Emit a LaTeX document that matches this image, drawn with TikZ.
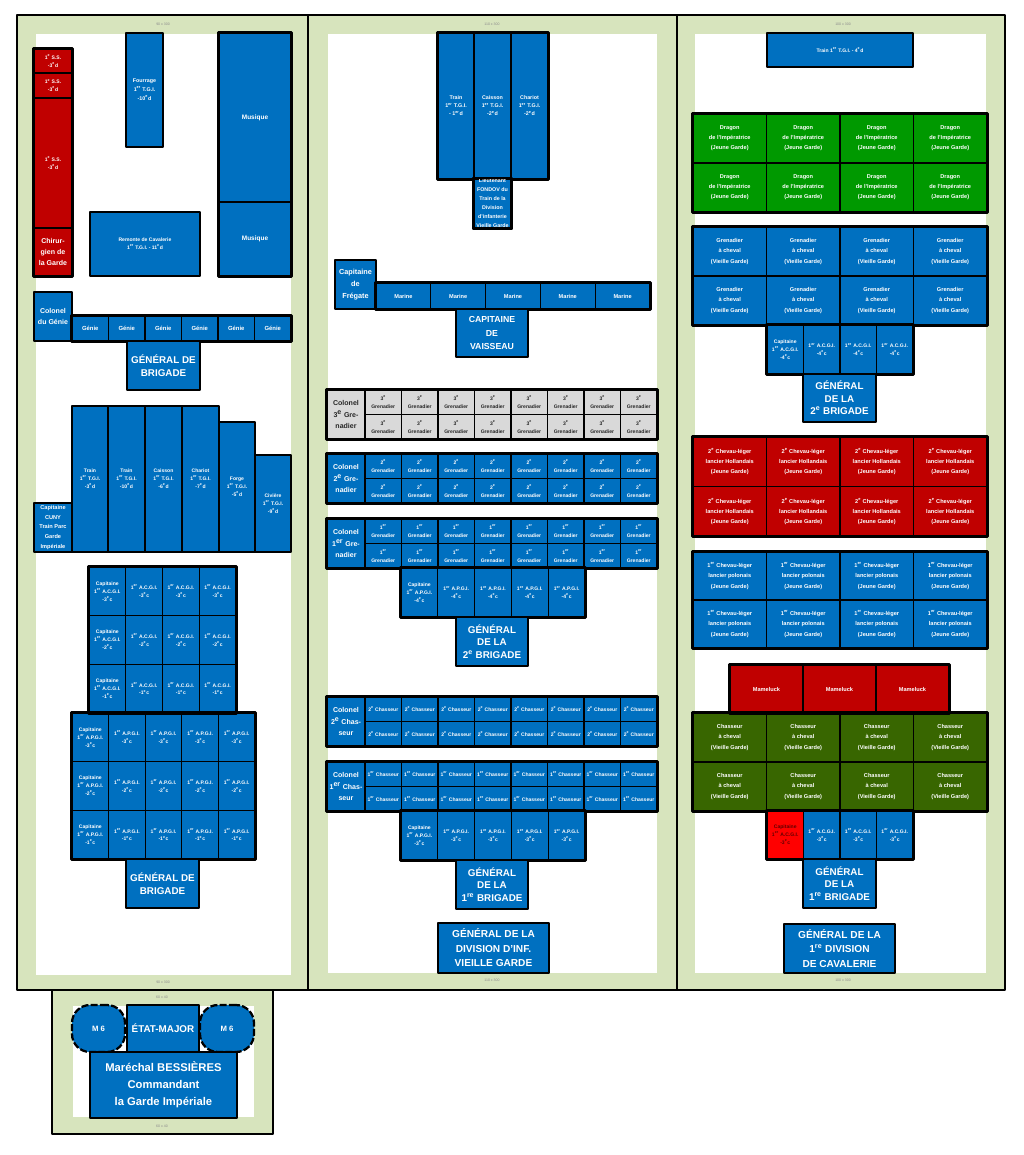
\documentclass[tikz,border=0pt]{standalone}
\usepackage{fontspec}
\setmainfont{Liberation Sans}
\usepackage{tikz}
\definecolor{gardeblue}{RGB}{0,112,192}
\definecolor{gardered}{RGB}{192,0,0}
\definecolor{gardegreen}{RGB}{0,153,0}
\definecolor{gardeolive}{RGB}{56,102,0}
\definecolor{gardescarlet}{RGB}{255,0,0}
\definecolor{gardegrey}{RGB}{217,217,217}
\definecolor{gardesage}{RGB}{215,228,189}
\newcommand{\expo}[1]{\textsuperscript{#1}}
% box given by its corners in pixel units: name, x1, y1, x2, y2, style, text
\newcommand{\blok}[7]{%
 \node[#6,minimum width={((#4)-(#2))*0.25mm},minimum height={((#5)-(#3))*0.25mm}]
  (#1) at ({((#2)+(#4))/2},{((#3)+(#5))/2}) {#7};}

\begin{document}
\begin{tikzpicture}[x=0.25mm,y=-0.25mm,line join=round,
 cell/.style={draw=black,line width=0.8pt,fill=gardeblue,text=white,align=center,
  inner sep=0pt,font=\bfseries\fontsize{3.6}{5.6}\selectfont},
 solo/.style={cell,line width=1.6pt},
 big/.style={solo,font=\bfseries\fontsize{7}{9}\selectfont},
 colonel/.style={cell,font=\bfseries\fontsize{5}{8}\selectfont},
 wide/.style={cell,font=\bfseries\fontsize{4}{7.2}\selectfont},
 grp/.style={draw=black,line width=1.6pt},
 colframe/.style={draw=black,line width=1.4pt,fill=gardesage},
 dimlabel/.style={text=black!45,inner sep=0pt,font=\fontsize{2.5}{3}\selectfont}]
 \fill[white] (0,0) rectangle (1024,1155);
 \useasboundingbox (0,0) rectangle (1024,1155);
 % Three columns and the staff box.
 \draw[colframe] (17,15) rectangle (308,990);
 \fill[white] (36,34) rectangle (291,975);
 \draw[colframe] (308,15) rectangle (677,990);
 \fill[white] (328,34) rectangle (657,973);
 \draw[colframe] (677,15) rectangle (1005,990);
 \fill[white] (695,34) rectangle (986,973);
 \draw[colframe] (52,990) rectangle (273,1134);
 \fill[white] (73,1006) rectangle (254,1117);
 \node[dimlabel] (dimLt) at (163,24) {90 x 300};
 \node[dimlabel] (dimLb) at (163,982) {90 x 300};
 \node[dimlabel] (dimMt) at (492,24) {110 x 300};
 \node[dimlabel] (dimMb) at (492,980) {110 x 300};
 \node[dimlabel] (dimRt) at (843,24) {100 x 300};
 \node[dimlabel] (dimRb) at (843,980) {100 x 300};
 \node[dimlabel] (dimSt) at (162,997) {60 x 40};
 \node[dimlabel] (dimSb) at (162,1126) {60 x 40};

 % Left column: services, music, engineers.
 \blok{ssA}{34}{49}{72}{73}{cell,fill=gardered}{1\expo{e} S.S.\\-3\expo{e}d}
 \blok{ssB}{34}{73}{72}{98}{cell,fill=gardered}{1\expo{e} S.S.\\-3\expo{e}d}
 \blok{ssC}{34}{98}{72}{228}{cell,fill=gardered}{1\expo{e} S.S.\\-3\expo{e}d}
 \blok{chir}{34}{228}{72}{276}{colonel,fill=gardered,font=\bfseries\fontsize{5}{7.7}\selectfont}{Chirur-\\gien de\\la Garde}
 \draw[grp] (ssA.north west) rectangle (chir.south east);
 \blok{fourrage}{126}{33}{163}{147}{solo,font=\bfseries\fontsize{3.8}{6.3}\selectfont}{Fourrage\\1\expo{er} T.G.I.\\-10\expo{e}d}
 \blok{musA}{219}{33}{291}{202}{cell,font=\bfseries\fontsize{4.6}{6}\selectfont}{Musique}
 \blok{musB}{219}{202}{291}{276}{cell,font=\bfseries\fontsize{4.6}{6}\selectfont}{Musique}
 \draw[grp] (musA.north west) rectangle (musB.south east);
 \blok{remonte}{90}{212}{200}{276}{solo}{Remonte de Cavalerie\\1\expo{er} T.G.I. - 11\expo{e}d}
 \blok{colgenie}{34}{292}{72}{341}{colonel,line width=1.6pt}{Colonel\\du Génie}
 \foreach \i in {0,...,5}{
  \blok{genie\i}{72+36.5*\i}{316}{72+36.5*(\i+1)}{341}{cell,font=\bfseries\fontsize{4.2}{5}\selectfont}{Génie}
 }
 \draw[grp] (genie0.north west) rectangle (genie5.south east);
 \blok{genbrigA}{127}{341}{200}{390}{big}{GÉNÉRAL DE\\BRIGADE}

 % Left column: train of the park.
 \blok{cuny}{34}{503}{72}{552}{solo,font=\bfseries\fontsize{4}{7}\selectfont}{Capitaine\\CUNY\\Train Parc\\Garde\\Impériale}
 \blok{trainA}{72}{406}{108}{552}{solo}{Train\\1\expo{er} T.G.I.\\-3\expo{e}d}
 \blok{trainB}{108}{406}{145}{552}{solo}{Train\\1\expo{er} T.G.I.\\-10\expo{e}d}
 \blok{caissonA}{145}{406}{182}{552}{solo}{Caisson\\1\expo{er} T.G.I.\\-6\expo{e}d}
 \blok{chariotA}{182}{406}{219}{552}{solo}{Chariot\\1\expo{er} T.G.I.\\-7\expo{e}d}
 \blok{forge}{219}{422}{255}{552}{solo}{Forge\\1\expo{er} T.G.I.\\-5\expo{e}d}
 \blok{civiere}{255}{455}{291}{552}{solo}{Civière\\1\expo{er} T.G.I.\\-9\expo{e}d}

 % Left column: artillery companies.
 \foreach \rr/\k in {0/3,1/2,2/1}{
  \blok{acg\rr0}{89}{567+48.67*\rr}{125.75}{567+48.67*(\rr+1)}{cell}{Capitaine\\1\expo{er} A.C.G.I.\\-\k\expo{e}c}
  \foreach \cc in {1,2,3}{
   \blok{acg\rr\cc}{89+36.75*\cc}{567+48.67*\rr}{89+36.75*(\cc+1)}{567+48.67*(\rr+1)}{cell}{1\expo{er} A.C.G.I.\\-\k\expo{e}c}
  }
  \blok{apg\rr0}{72}{713+48.67*\rr}{108.6}{713+48.67*(\rr+1)}{cell}{Capitaine\\1\expo{er} A.P.G.I.\\-\k\expo{e}c}
  \foreach \cc in {1,...,4}{
   \blok{apg\rr\cc}{72+36.6*\cc}{713+48.67*\rr}{72+36.6*(\cc+1)}{713+48.67*(\rr+1)}{cell}{1\expo{er} A.P.G.I.\\-\k\expo{e}c}
  }
 }
 \draw[grp] (acg00.north west) rectangle (acg23.south east);
 \draw[grp] (apg00.north west) rectangle (apg24.south east);
 \blok{genbrigB}{126}{859}{199}{908}{big}{GÉNÉRAL DE\\BRIGADE}

 % Middle column: train, marines.
 \blok{trainM}{438}{33}{474}{179}{cell,font=\bfseries\fontsize{3.8}{5.7}\selectfont}{Train\\1\expo{er} T.G.I.\\- 1\expo{er}d}
 \blok{caissonM}{474}{33}{511}{179}{cell,font=\bfseries\fontsize{3.8}{5.7}\selectfont}{Caisson\\1\expo{er} T.G.I.\\-2\expo{e}d}
 \blok{chariotM}{511}{33}{548}{179}{cell,font=\bfseries\fontsize{3.8}{5.7}\selectfont}{Chariot\\1\expo{er} T.G.I.\\-2\expo{e}d}
 \draw[grp] (trainM.north west) rectangle (chariotM.south east);
 \blok{lieut}{474}{179}{511}{228}{solo}{}
 \begin{scope}
  \clip (lieut.north west) rectangle (lieut.south east);
  \node[text=white,align=center,inner sep=0pt,font=\bfseries\fontsize{3.8}{6.4}\selectfont]
   (lieuttext) at (lieut.center) {Lieutenant\\FONDOV du\\Train de la\\Division\\d'infanterie\\Vieille Garde};
 \end{scope}
 \draw[grp] (lieut.north west) rectangle (lieut.south east);
 \blok{fregate}{335}{260}{376}{309}{solo,font=\bfseries\fontsize{5.2}{8.5}\selectfont}{Capitaine\\de\\Frégate}
 \foreach \i in {0,...,4}{
  \blok{marine\i}{376+54.8*\i}{283}{376+54.8*(\i+1)}{309}{cell,font=\bfseries\fontsize{4}{5}\selectfont}{Marine}
 }
 \draw[grp] (marine0.north west) rectangle (marine4.south east);
 \blok{vaisseau}{456}{309}{528}{357}{big,font=\bfseries\fontsize{6.2}{9.5}\selectfont}{CAPITAINE\\DE\\VAISSEAU}

 % Middle column: grenadiers.
 \foreach \g/\y/\o/\f/\t in {3/390/e/gardegrey/black!85,2/454/e/gardeblue/white,1/519/er/gardeblue/white}{
  \blok{colgr\g}{327}{\y}{365}{\y+49}{colonel,fill=\f,text=\t}{Colonel\\\g\expo{\o} Gre-\\nadier}
  \foreach \i in {0,...,7}{
   \blok{gr\g a\i}{365+36.5*\i}{\y}{365+36.5*(\i+1)}{\y+24.5}{cell,fill=\f,text=\t}{\g\expo{\o}\\Grenadier}
   \blok{gr\g b\i}{365+36.5*\i}{\y+24.5}{365+36.5*(\i+1)}{\y+49}{cell,fill=\f,text=\t}{\g\expo{\o}\\Grenadier}
  }
  \draw[grp] (colgr\g.north west) rectangle (gr\g b7.south east);
 }
 \blok{apgM0}{401}{568}{437.8}{617}{cell}{Capitaine\\1\expo{er} A.P.G.I.\\-4\expo{e}c}
 \foreach \i in {1,...,4}{
  \blok{apgM\i}{401+36.8*\i}{568}{401+36.8*(\i+1)}{617}{cell}{1\expo{er} A.P.G.I.\\-4\expo{e}c}
 }
 \draw[grp] (apgM0.north west) rectangle (apgM4.south east);
 \blok{genIIbrigM}{456}{617}{528}{666}{big}{GÉNÉRAL\\DE LA\\2\expo{e} BRIGADE}

 % Middle column: chasseurs.
 \foreach \g/\y/\o in {2/697/e,1/762/er}{
  \blok{colch\g}{327}{\y}{365}{\y+49}{colonel}{Colonel\\\g\expo{\o} Chas-\\seur}
  \foreach \i in {0,...,7}{
   \blok{ch\g a\i}{365+36.5*\i}{\y}{365+36.5*(\i+1)}{\y+24.5}{cell}{\g\expo{\o} Chasseur}
   \blok{ch\g b\i}{365+36.5*\i}{\y+24.5}{365+36.5*(\i+1)}{\y+49}{cell}{\g\expo{\o} Chasseur}
  }
  \draw[grp] (colch\g.north west) rectangle (ch\g b7.south east);
 }
 \blok{apgN0}{401}{811}{437.8}{860}{cell}{Capitaine\\1\expo{er} A.P.G.I.\\-3\expo{e}c}
 \foreach \i in {1,...,4}{
  \blok{apgN\i}{401+36.8*\i}{811}{401+36.8*(\i+1)}{860}{cell}{1\expo{er} A.P.G.I.\\-3\expo{e}c}
 }
 \draw[grp] (apgN0.north west) rectangle (apgN4.south east);
 \blok{genIbrigM}{456}{860}{528}{909}{big}{GÉNÉRAL\\DE LA\\1\expo{re} BRIGADE}
 \blok{genvg}{438}{923}{549}{973}{big,font=\bfseries\fontsize{7.2}{10.3}\selectfont}{GÉNÉRAL DE LA\\DIVISION D'INF.\\VIEILLE GARDE}

 % Right column: cavalry, 2nd brigade.
 \blok{trainR}{767}{33}{913}{67}{solo}{Train 1\expo{er} T.G.I. - 4\expo{e}d}
 \foreach \rr in {0,1}{
  \foreach \cc in {0,...,3}{
   \blok{drag\rr\cc}{693+73.5*\cc}{114+49*\rr}{693+73.5*(\cc+1)}{114+49*(\rr+1)}{wide,fill=gardegreen}{Dragon\\de l'Impératrice\\(Jeune Garde)}
   \blok{grch\rr\cc}{693+73.5*\cc}{227+49*\rr}{693+73.5*(\cc+1)}{227+49*(\rr+1)}{wide}{Grenadier\\à cheval\\(Vieille Garde)}
  }
 }
 \draw[grp] (drag00.north west) rectangle (drag13.south east);
 \draw[grp] (grch00.north west) rectangle (grch13.south east);
 \blok{acgR0}{767}{325}{803.5}{374}{cell}{Capitaine\\1\expo{er} A.C.G.I.\\-4\expo{e}c}
 \foreach \i in {1,2,3}{
  \blok{acgR\i}{767+36.5*\i}{325}{767+36.5*(\i+1)}{374}{cell}{1\expo{er} A.C.G.I.\\-4\expo{e}c}
 }
 \draw[grp] (acgR0.north west) rectangle (acgR3.south east);
 \blok{genIIbrigR}{803}{374}{876}{422}{big}{GÉNÉRAL\\DE LA\\2\expo{e} BRIGADE}

 % Right column: cavalry, 1st brigade.
 \foreach \rr in {0,1}{
  \foreach \cc in {0,...,3}{
   \blok{chlh\rr\cc}{693+73.5*\cc}{437+49.5*\rr}{693+73.5*(\cc+1)}{437+49.5*(\rr+1)}{wide,fill=gardered}{2\expo{e} Chevau-léger\\lancier Hollandais\\(Jeune Garde)}
   \blok{chlp\rr\cc}{693+73.5*\cc}{552+48*\rr}{693+73.5*(\cc+1)}{552+48*(\rr+1)}{wide}{1\expo{er} Chevau-léger\\lancier polonais\\(Jeune Garde)}
   \blok{chch\rr\cc}{693+73.5*\cc}{713+49*\rr}{693+73.5*(\cc+1)}{713+49*(\rr+1)}{wide,fill=gardeolive}{Chasseur\\à cheval\\(Vieille Garde)}
  }
 }
 \draw[grp] (chlh00.north west) rectangle (chlh13.south east);
 \draw[grp] (chlp00.north west) rectangle (chlp13.south east);
 \foreach \i in {0,1,2}{
  \blok{mam\i}{730+73*\i}{665}{730+73*(\i+1)}{713}{cell,fill=gardered,font=\bfseries\fontsize{4}{5}\selectfont}{Mameluck}
 }
 \draw[grp] (mam0.north west) rectangle (mam2.south east);
 \draw[grp] (chch00.north west) rectangle (chch13.south east);
 \blok{acgS0}{767}{811}{803.5}{859}{cell,fill=gardescarlet,text=gardered!50!black}{Capitaine\\1\expo{er} A.C.G.I.\\-3\expo{e}c}
 \foreach \i in {1,2,3}{
  \blok{acgS\i}{767+36.5*\i}{811}{767+36.5*(\i+1)}{859}{cell}{1\expo{er} A.C.G.I.\\-3\expo{e}c}
 }
 \draw[grp] (acgS0.north west) rectangle (acgS3.south east);
 \blok{genIbrigR}{803}{859}{876}{908}{big}{GÉNÉRAL\\DE LA\\1\expo{re} BRIGADE}
 \blok{gencav}{784}{924}{895}{973}{big,font=\bfseries\fontsize{7.2}{10.3}\selectfont}{GÉNÉRAL DE LA\\1\expo{re} DIVISION\\DE CAVALERIE}

 % Staff of the marshal.
 \blok{mvia}{72}{1005}{125}{1052}{solo,dash pattern=on 5pt off 1.6pt,rounded corners=4.5mm,font=\bfseries\fontsize{5.5}{6}\selectfont}{M 6}
 \blok{etat}{127}{1005}{199}{1052}{big}{ÉTAT-MAJOR}
 \blok{mvib}{200}{1005}{254}{1052}{solo,dash pattern=on 5pt off 1.6pt,rounded corners=4.5mm,font=\bfseries\fontsize{5.5}{6}\selectfont}{M 6}
 \blok{bessieres}{90}{1052}{237}{1118}{big,font=\bfseries\fontsize{8}{12}\selectfont}{Maréchal BESSIÈRES\\Commandant\\la Garde Impériale}
\end{tikzpicture}
\end{document}
